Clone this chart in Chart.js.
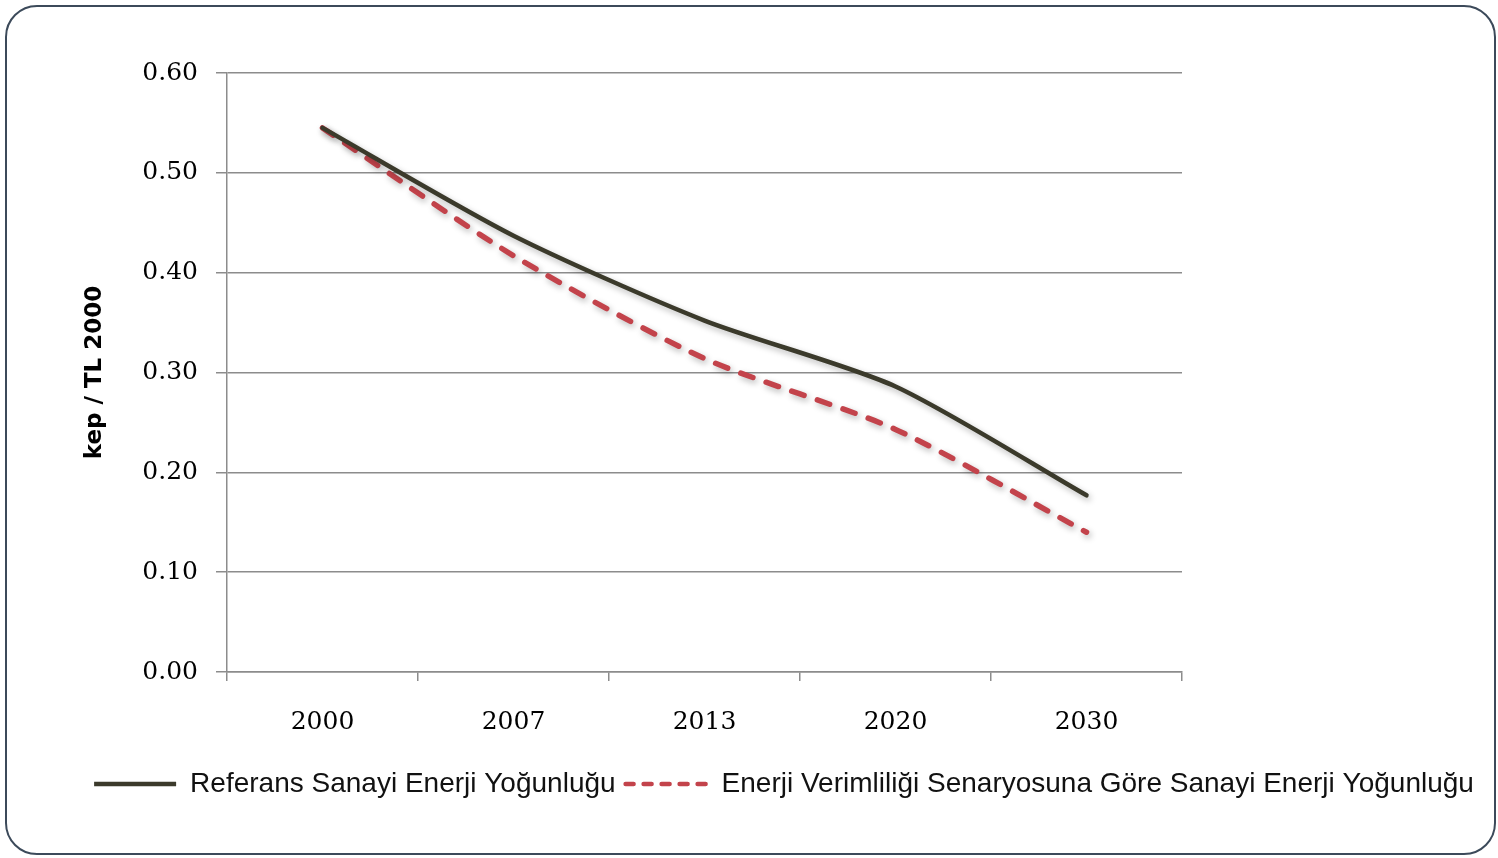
<!DOCTYPE html>
<html>
<head>
<meta charset="utf-8">
<script src="https://cdn.jsdelivr.net/npm/chart.js@4.4.1/dist/chart.umd.min.js"></script>
<style>
  html, body { margin: 0; padding: 0; background: #ffffff; }
  #wrap { position: relative; width: 1498px; height: 858px; }
  #frame {
    position: absolute; left: 5px; top: 5px; width: 1491px; height: 850px;
    border: 2px solid #3c4a5a; border-radius: 32px; box-sizing: border-box;
    background: #ffffff; pointer-events: none;
  }
  canvas { position: absolute; left: 0; top: 0; }
</style>
</head>
<body>
<div id="wrap">
  <div id="frame"></div>
  <canvas id="c" width="1498" height="858"></canvas>
</div>
<script>
// Industrial energy intensity, kep per TL (2000 prices)
const years = ['2000', '2007', '2013', '2020', '2030'];
const referenceSeries = [0.545, 0.437, 0.352, 0.286, 0.177];
const efficiencySeries = [0.545, 0.417, 0.314, 0.243, 0.140];
const yTicks = [0.0, 0.1, 0.2, 0.3, 0.4, 0.5, 0.6];

const serif = '"DejaVu Serif", "Liberation Serif", serif';
const legendFont = '"Liberation Sans Narrow", "Liberation Sans", sans-serif';

// soft drop shadow under each series line
const lineShadow = {
  id: 'lineShadow',
  beforeDatasetDraw(chart) {
    const ctx = chart.ctx;
    ctx.save();
    ctx.shadowColor = 'rgba(0,0,0,0.28)';
    ctx.shadowBlur = 6;
    ctx.shadowOffsetX = 2;
    ctx.shadowOffsetY = 3;
  },
  afterDatasetDraw(chart) {
    chart.ctx.restore();
  }
};

new Chart(document.getElementById('c'), {
  type: 'line',
  data: {
    labels: years,
    datasets: [
      {
        label: 'Referans Sanayi Enerji Yoğunluğu',
        data: referenceSeries,
        borderColor: '#3b3a2b',
        backgroundColor: '#3b3a2b',
        borderWidth: 4.5,
        pointRadius: 0,
        tension: 0.25,
        borderCapStyle: 'round'
      },
      {
        label: 'Enerji Verimliliği Senaryosuna Göre Sanayi Enerji Yoğunluğu',
        data: efficiencySeries,
        borderColor: '#c3434b',
        backgroundColor: '#c3434b',
        borderWidth: 5.5,
        borderDash: [13, 14],
        borderCapStyle: 'round',
        pointRadius: 0,
        tension: 0.25
      }
    ]
  },
  options: {
    responsive: false,
    animation: false,
    layout: { padding: { left: 70, right: 0, top: 73, bottom: 50 } },
    plugins: {
      tooltip: { enabled: false },
      legend: {
        position: 'bottom',
        labels: {
          usePointStyle: true,
          pointStyle: 'line',
          boxWidth: 82,
          pointStyleWidth: 82,
          padding: 10,
          color: '#111',
          font: { family: legendFont, size: 28 },
          generateLabels(chart) {
            const items = Chart.defaults.plugins.legend.labels.generateLabels(chart);
            return items.map(it => {
              const ds = chart.data.datasets[it.datasetIndex];
              return Object.assign(it, {
                strokeStyle: ds.borderColor,
                fillStyle: ds.borderColor,
                lineWidth: 4.5,
                lineDash: ds.borderDash ? [8, 10] : [],
                lineCap: ds.borderDash ? 'round' : 'butt',
                pointStyle: 'line'
              });
            });
          }
        }
      }
    },
    scales: {
      x: {
        offset: true,
        grid: {
          offset: true,
          drawOnChartArea: false,
          drawTicks: true,
          tickLength: 9,
          color: '#8c8c8c',
          lineWidth: 1.5
        },
        border: { display: true, color: '#8c8c8c', width: 1.5 },
        ticks: {
          padding: 26,
          color: '#000',
          font: { family: serif, size: 25 }
        },
        afterFit(s) { s.height = 88; }
      },
      y: {
        min: 0,
        max: 0.6,
        afterBuildTicks(s) { s.ticks = yTicks.map(v => ({ value: v })); },
        grid: {
          color: '#8c8c8c',
          lineWidth: 1.5,
          tickLength: 11
        },
        border: { display: true, color: '#8c8c8c', width: 1.5 },
        ticks: {
          padding: 18,
          color: '#000',
          font: { family: serif, size: 25 },
          callback: v => Number(v).toFixed(2)
        },
        title: {
          display: true,
          text: 'kep / TL 2000',
          color: '#000',
          font: { family: '"DejaVu Sans", sans-serif', size: 23, weight: 'bold' },
          padding: { top: 11, bottom: 8 }
        },
        afterFit(s) { s.width = 157; }
      },
      yRight: {
        position: 'right',
        display: true,
        grid: { display: false },
        border: { display: false },
        ticks: { display: false },
        afterFit(s) { s.width = 316; }
      }
    }
  },
  plugins: [lineShadow]
});
</script>
</body>
</html>
